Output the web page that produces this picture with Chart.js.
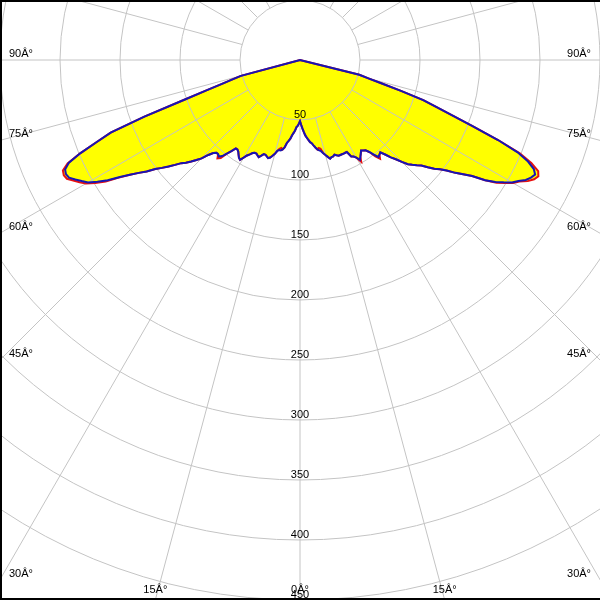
<!DOCTYPE html>
<html>
<head>
<meta charset="utf-8">
<title>Polar intensity</title>
<script src="https://cdn.jsdelivr.net/npm/chart.js@4.4.1/dist/chart.umd.min.js"></script>
<style>
  html, body { margin: 0; padding: 0; width: 600px; height: 600px; overflow: hidden; background: #fff; }
  #wrap { position: relative; width: 600px; height: 600px; overflow: hidden; }
  #myChart { position: absolute; left: -360px; top: -600px; }
  #frame {
    position: absolute; left: 0; top: 0; width: 600px; height: 600px; box-sizing: border-box;
    border-left: 2px solid #000; border-top: 2px solid #000; border-bottom: 2px solid #000;
    pointer-events: none;
  }
</style>
</head>
<body>
<div id="wrap">
  <canvas id="myChart" width="1320" height="1320"></canvas>
  <div id="frame"></div>
</div>
<script>
// ------------------   DATA   ----------------
// intensity per gamma degree (0 = straight down)
const blueLeft = [
  51, 53, 55, 56, 59, 61, 63, 66, 68, 70,
  74, 76, 77, 77, 78, 81, 83, 85, 86, 85,
  84, 84, 86, 88, 87, 86, 86, 87, 89, 91,
  94, 97, 96, 94, 92, 91, 91, 95, 99, 103,
  105, 104, 104, 106, 110, 116, 120, 124, 128, 131,
  136, 141, 146, 151, 158, 164, 171, 179, 189, 197,
  204, 208, 212, 216, 217, 216, 211, 199, 183, 169,
  138, 103, 82, 68, 58, 51, 0, 0, 0, 0,
  0, 0, 0, 0, 0, 0, 0, 0, 0, 0, 0,
];
const blueRight = [
  51, 54, 57, 60, 63, 65, 67, 69, 70, 72,
  74, 76, 77, 78, 80, 82, 84, 86, 85, 85,
  84, 85, 86, 86, 86, 86, 86, 86, 91, 92,
  94, 97, 95, 93, 91, 92, 93, 96, 100, 104,
  103, 102, 106, 111, 115, 120, 125, 128, 131, 134,
  139, 144, 148, 153, 160, 166, 173, 184, 192, 198,
  204, 208, 213, 216, 218, 215, 208, 197, 178, 154,
  135, 120, 108, 88, 71, 59, 51, 0, 0, 0,
  0, 0, 0, 0, 0, 0, 0, 0, 0, 0, 0,
];
const redLeft = [
  51, 53, 55, 56, 59, 61, 63, 66, 68, 70,
  74, 76, 75, 76, 78, 81, 83, 85, 86, 85,
  84, 84, 86, 88, 87, 86, 86, 87, 89, 91,
  94, 97, 96, 94, 92, 91, 91, 95, 99, 105,
  107, 104, 104, 106, 110, 116, 120, 124, 128, 131,
  136, 141, 146, 151, 158, 164, 171, 180, 191, 199,
  206, 210, 214, 218, 219, 218, 212, 199, 183, 169,
  138, 103, 82, 68, 58, 51, 0, 0, 0, 0,
  0, 0, 0, 0, 0, 0, 0, 0, 0, 0, 0,
];
const redRight = [
  51, 54, 57, 60, 63, 65, 67, 69, 70, 72,
  74, 76, 75, 76, 80, 82, 84, 86, 85, 85,
  84, 85, 86, 86, 86, 86, 86, 86, 91, 92,
  94, 99, 95, 93, 91, 92, 93, 96, 102, 106,
  103, 102, 106, 111, 115, 120, 125, 128, 131, 134,
  139, 144, 148, 153, 160, 166, 173, 184, 193, 199,
  205, 209, 215, 219, 221, 219, 211, 199, 178, 154,
  135, 120, 108, 88, 71, 59, 51, 0, 0, 0,
  0, 0, 0, 0, 0, 0, 0, 0, 0, 0, 0,
];

const radialTicks = [50, 100, 150, 200, 250, 300, 350, 400, 450];
const angleTicks = ['0Â°', '15Â°', '30Â°', '45Â°', '60Â°', '75Â°', '90Â°'];

// ------------------   LAYOUT   ----------------
const OFFSET_X = -360; // canvas shift so the pole sits at (300, 60)
const OFFSET_Y = -600;
const GRID = '#c4c4c4';
const FONT = '11px "Liberation Sans", Arial, sans-serif';

// ------------   FUNCTIONS   ----------------------
// one value per degree, clockwise from straight down (left side first)
function fullCircle(left, right) {
  const out = new Array(360).fill(0);
  left.forEach((v, g) => { out[g] = v; });
  right.forEach((v, g) => { if (g > 0) out[360 - g] = v; });
  return out;
}

const edgeLabels = {
  id: 'edgeLabels',
  afterDraw(chart) {
    const r = chart.scales.r;
    const ctx = chart.ctx;
    const vx0 = -OFFSET_X, vx1 = vx0 + 600, vy1 = -OFFSET_Y + 600;
    ctx.save();
    ctx.fillStyle = '#000';
    ctx.font = FONT;
    ctx.textBaseline = 'alphabetic';

    // values down the 0 deg line
    ctx.textAlign = 'center';
    radialTicks.forEach((v) => {
      const p = r.getPointPosition(0, r.getDistanceFromCenterForValue(v));
      ctx.fillText(String(v), p.x, p.y - 2);
    });

    // angle names where the rays leave the picture
    angleTicks.forEach((txt, k) => {
      const a = (k * 15 * Math.PI) / 180;
      [-1, 1].forEach((side) => {
        if (k === 0 && side === 1) return;
        const dx = side * Math.sin(a);
        const dy = Math.cos(a);
        const tx = Math.abs(dx) < 1e-9 ? Infinity : ((side < 0 ? vx0 : vx1) - r.xCenter) / dx;
        const ty = dy < 1e-9 ? Infinity : (vy1 - r.yCenter) / dy;
        if (tx < ty) {
          const y = r.yCenter + dy * tx;
          ctx.textAlign = side < 0 ? 'left' : 'right';
          ctx.fillText(txt, side < 0 ? vx0 + 9 : vx1 - 9, y - 3);
        } else {
          const x = r.xCenter + dx * ty;
          ctx.textAlign = 'center';
          ctx.fillText(txt, x, vy1 - 7);
        }
      });
    });
    ctx.restore();
  },
};

function renderPolar() {
  const labels = Array.from({ length: 360 }, (_, i) => i);
  const ctx = document.getElementById('myChart').getContext('2d');
  new Chart(ctx, {
    type: 'radar',
    data: {
      labels: labels,
      datasets: [
        {
          label: 'C90-C270',
          data: fullCircle(blueLeft, blueRight),
          borderColor: '#1616b4',
          backgroundColor: '#ffff00',
          borderWidth: 2,
          fill: 'origin',
          pointRadius: 0,
        },
        {
          label: 'C0-C180',
          data: fullCircle(redLeft, redRight),
          borderColor: '#e81010',
          backgroundColor: '#ffff00',
          borderWidth: 2,
          fill: 'origin',
          pointRadius: 0,
        },
      ],
    },
    options: {
      responsive: false,
      animation: false,
      devicePixelRatio: 1,
      elements: { line: { tension: 0 } },
      plugins: {
        legend: { display: false },
        tooltip: { enabled: false },
        filler: { drawTime: 'beforeDraw' },
      },
      scales: {
        r: {
          startAngle: 180,
          min: 0,
          max: 550,
          ticks: { display: false, stepSize: 50 },
          pointLabels: { display: false },
          grid: {
            circular: true,
            color: GRID,
            lineWidth: (c) => (c.tick && c.tick.value <= 450 ? 1 : 0),
          },
          angleLines: {
            color: GRID,
            lineWidth: (c) => (c.index % 15 === 0 ? 1 : 0),
            borderDash: [0, 60, 2000],
          },
        },
      },
    },
    plugins: [edgeLabels],
  });
}

// ------------ function calls ---------------------
renderPolar();
</script>
</body>
</html>
